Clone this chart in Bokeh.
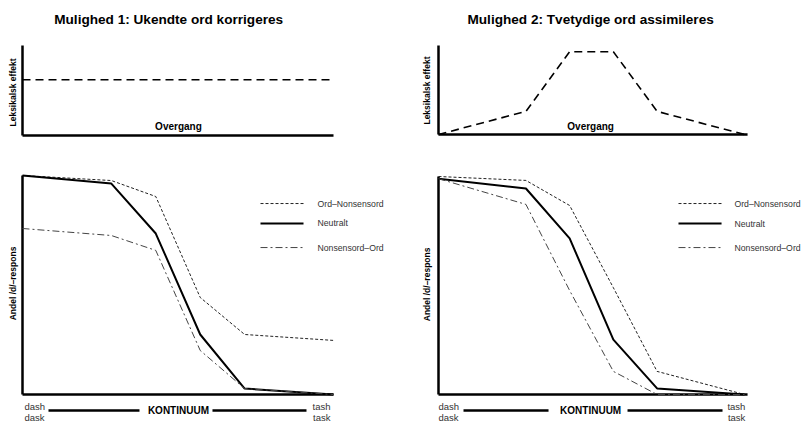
from bokeh.plotting import figure
from bokeh.layouts import column, row
from bokeh.models import Range1d
from bokeh.core.properties import value
from bokeh.embed import file_html
from bokeh.resources import INLINE

# ---------------- data ----------------
x_steps = [0, 2, 3, 4, 5, 7]

effekt_1 = [0.62, 0.62, 0.62, 0.62, 0.62, 0.62]
effekt_2 = [0.0, 0.26, 0.93, 0.93, 0.26, 0.0]

m1_ord_nonsensord = [1.0, 0.977, 0.904, 0.443, 0.274, 0.247]
m1_neutralt = [1.0, 0.963, 0.735, 0.274, 0.027, 0.0]
m1_nonsensord_ord = [0.758, 0.726, 0.658, 0.201, 0.027, 0.0]

m2_ord_nonsensord = [1.0, 0.982, 0.867, 0.49, 0.106, 0.0]
m2_neutralt = [0.99, 0.945, 0.716, 0.252, 0.028, 0.0]
m2_nonsensord_ord = [0.99, 0.872, 0.477, 0.106, 0.0, 0.0]

titles = ["Mulighed 1: Ukendte ord korrigeres", "Mulighed 2: Tvetydige ord assimileres"]
series_labels = ["Ord\u2013Nonsensord", "Neutralt", "Nonsensord\u2013Ord"]
top_ylabel = "Leksikalsk effekt"
top_xlabel = "Overgang"
bot_ylabel = "Andel /d/\u2013respons"
bot_xlabel = "KONTINUUM"
left_end_labels = ["dash", "dask"]
right_end_labels = ["tash", "task"]

FONT = value("Liberation Sans")


def make_fig(W, H, x0, x7, yb, yt):
    sx = (x7 - x0) / 7.0
    sy = float(yb - yt)
    p = figure(width=W, height=H,
               x_range=Range1d(-x0 / sx, (W - x0) / sx),
               y_range=Range1d(-(H - yb) / sy, 1 + yt / sy),
               output_backend="svg", toolbar_location=None, tools="",
               x_axis_location=None, y_axis_location=None,
               min_border=0, title=None)
    p.grid.grid_line_color = None
    p.outline_line_color = None
    p.background_fill_color = "white"
    p.border_fill_color = "white"
    return p


def axes(p, x_end):
    p.line([0, 0], [0, 1], line_color="black", line_width=2.5)
    p.line([0, x_end], [0, 0], line_color="black", line_width=2.5)


def top_panel(p, effekt, title, tx, ty, ox, oy, lx, ly, x_end):
    axes(p, x_end)
    p.line(x_steps, effekt, line_color="black", line_width=1.6, line_dash="8 5")
    p.text(x=[tx], y=[ty], text=[title], text_font=FONT, text_font_size="13.6px",
           text_font_style="bold", text_align="center", text_baseline="middle",
           text_color="black")
    p.text(x=[ox], y=[oy], text=[top_xlabel], text_font=FONT, text_font_size="10px",
           text_font_style="bold", text_align="center", text_baseline="middle",
           text_color="black")
    p.text(x=[lx], y=[ly], text=[top_ylabel], text_font=FONT, text_font_size="8.5px",
           text_font_style="bold", text_align="center", text_baseline="middle",
           angle=1.5708, text_color="black")


STYLES = [dict(line_color="#222222", line_width=1.0, line_dash="3 2"),
          dict(line_color="black", line_width=2.0),
          dict(line_color="#444444", line_width=1.0, line_dash="7 3 2 3")]


def bottom_panel(p, series, lx, ly, leg_x0, leg_x1, leg_tx, leg_ys,
                 dash_x, tash_x, end_ys, k_y, k_x, seg1, seg2, x_end):
    axes(p, x_end)
    for s, st in zip(series, STYLES):
        p.line(x_steps, s, **st)
    for lab, yy, st in zip(series_labels, leg_ys, STYLES):
        p.line([leg_x0, leg_x1], [yy, yy], **st)
        p.text(x=[leg_tx], y=[yy], text=[lab], text_font=FONT, text_font_size="8.7px",
               text_align="left", text_baseline="middle", text_color="#333333")
    p.text(x=[lx], y=[ly], text=[bot_ylabel], text_font=FONT, text_font_size="8.5px",
           text_font_style="bold", text_align="center", text_baseline="middle",
           angle=1.5708, text_color="black")
    p.text(x=[dash_x, dash_x], y=end_ys, text=left_end_labels, text_font=FONT,
           text_font_size="9.5px", text_align="left", text_baseline="middle",
           text_color="#333333")
    p.text(x=[tash_x, tash_x], y=end_ys, text=right_end_labels, text_font=FONT,
           text_font_size="9.5px", text_align="right", text_baseline="middle",
           text_color="#333333")
    p.line(seg1, [k_y, k_y], line_color="black", line_width=2.5)
    p.line(seg2, [k_y, k_y], line_color="black", line_width=2.5)
    p.text(x=[k_x], y=[k_y], text=[bot_xlabel], text_font=FONT, text_font_size="10px",
           text_font_style="bold", text_align="center", text_baseline="middle",
           text_color="black")


# top-left
tl = make_fig(408, 158, 22, 333, 135, 45)
top_panel(tl, effekt_1, titles[0], 3.29, 1.289, 3.51, 0.10, -0.203, 0.478, 7.0)

# top-right
tr = make_fig(395, 158, 30, 336, 134, 45)
top_panel(tr, effekt_2, titles[1], 3.48, 1.292, 3.48, 0.09, -0.252, 0.494, 7.07)

# bottom-left
bl = make_fig(408, 264, 22, 333, 236, 17)
bottom_panel(bl, [m1_ord_nonsensord, m1_neutralt, m1_nonsensord_ord],
             -0.203, 0.507, 5.357, 6.325, 6.64, [0.872, 0.781, 0.671],
             0.045, 6.932, [-0.0548, -0.105], -0.073, 3.51,
             [0.585, 2.633], [4.276, 6.392], 7.0)

# bottom-right
br = make_fig(395, 264, 30, 336, 236, 18)
bottom_panel(br, [m2_ord_nonsensord, m2_neutralt, m2_nonsensord_ord],
             -0.252, 0.505, 5.49, 6.475, 6.77, [0.876, 0.784, 0.674],
             0.0, 7.02, [-0.055, -0.1055], -0.0734, 3.48,
             [0.572, 2.517], [4.324, 6.497], 7.07)

layout = column(row(tl, tr), row(bl, br))

open("out.html", "w").write(file_html(layout, INLINE))
